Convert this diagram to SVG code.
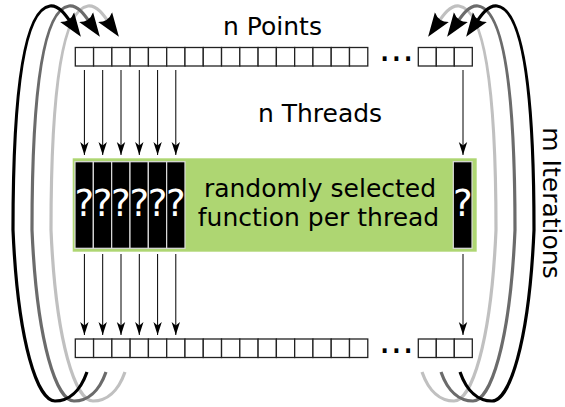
<svg xmlns="http://www.w3.org/2000/svg" width="565" height="407" viewBox="0 0 565 407">
<style>
.cell{fill:#fff;stroke:#222;stroke-width:1.3}
.fn{fill:#000;stroke:#ddd;stroke-width:1.2}
.q{fill:#fff;font-family:"DejaVu Sans",sans-serif;font-size:37px;text-anchor:middle}
.lbl{fill:#000;font-family:"DejaVu Sans",sans-serif;font-size:25px;text-anchor:middle}
.dots{fill:#000;font-family:"DejaVu Sans",sans-serif;font-size:37px}
.thr{stroke:#000;stroke-width:1;fill:none;marker-end:url(#ah)}
.loop{fill:none;stroke-width:3.2;marker-end:url(#big)}
</style>
<defs>
<marker id="ah" markerUnits="userSpaceOnUse" markerWidth="14" markerHeight="10" refX="13" refY="5" orient="auto">
<path d="M13,5 L0,0.8 L3.5,5 L0,9.2 Z" fill="#000"/>
</marker>
<marker id="big" markerUnits="userSpaceOnUse" markerWidth="25" markerHeight="20" refX="12" refY="10" orient="auto">
<path d="M24,10 L0,1.5 Q6,10 0,18.5 Z" fill="#000"/>
</marker>
<path id="loopPath" d="M87,372 C80,392 68,401 55,401 C38,401 18,345 13,230 C13,120 20,10 50,6 C60,5 67,17 74,27"/>
</defs>

<g id="connectors">
<g id="loop-left">
<use href="#loopPath" class="loop" stroke="#c0c0c0" transform="translate(38,0)"/>
<use href="#loopPath" class="loop" stroke="#6b6b6b" transform="translate(19,0)"/>
<use href="#loopPath" class="loop" stroke="#000"/>
</g>
<g id="loop-right" transform="translate(547,0) scale(-1,1)">
<use href="#loopPath" class="loop" stroke="#c0c0c0" transform="translate(38,0)"/>
<use href="#loopPath" class="loop" stroke="#6b6b6b" transform="translate(19,0)"/>
<use href="#loopPath" class="loop" stroke="#000"/>
</g>
<g id="thread-arrows">
<path class="thr" d="M84.4,70 V155"/>
<path class="thr" d="M102.7,70 V155"/>
<path class="thr" d="M121,70 V155"/>
<path class="thr" d="M139.3,70 V155"/>
<path class="thr" d="M157.6,70 V155"/>
<path class="thr" d="M175.8,70 V155"/>
<path class="thr" d="M463,70 V155"/>
<path class="thr" d="M84.4,254 V335"/>
<path class="thr" d="M102.7,254 V335"/>
<path class="thr" d="M121,254 V335"/>
<path class="thr" d="M139.3,254 V335"/>
<path class="thr" d="M157.6,254 V335"/>
<path class="thr" d="M175.8,254 V335"/>
<path class="thr" d="M463,254 V335"/>
</g>
</g>

<g id="points-top">
<rect class="cell" x="75.3" y="47.5" width="18.28" height="18.5"/>
<rect class="cell" x="93.58" y="47.5" width="18.28" height="18.5"/>
<rect class="cell" x="111.86" y="47.5" width="18.28" height="18.5"/>
<rect class="cell" x="130.14" y="47.5" width="18.28" height="18.5"/>
<rect class="cell" x="148.42" y="47.5" width="18.28" height="18.5"/>
<rect class="cell" x="166.7" y="47.5" width="18.28" height="18.5"/>
<rect class="cell" x="184.98" y="47.5" width="18.28" height="18.5"/>
<rect class="cell" x="203.26" y="47.5" width="18.28" height="18.5"/>
<rect class="cell" x="221.54" y="47.5" width="18.28" height="18.5"/>
<rect class="cell" x="239.82" y="47.5" width="18.28" height="18.5"/>
<rect class="cell" x="258.1" y="47.5" width="18.28" height="18.5"/>
<rect class="cell" x="276.38" y="47.5" width="18.28" height="18.5"/>
<rect class="cell" x="294.66" y="47.5" width="18.28" height="18.5"/>
<rect class="cell" x="312.94" y="47.5" width="18.28" height="18.5"/>
<rect class="cell" x="331.22" y="47.5" width="18.28" height="18.5"/>
<rect class="cell" x="349.5" y="47.5" width="18.28" height="18.5"/>
<text class="dots" x="378.7" y="61.3">...</text>
<rect class="cell" x="418.3" y="47.5" width="18" height="18.5"/>
<rect class="cell" x="436.3" y="47.5" width="18" height="18.5"/>
<rect class="cell" x="454.3" y="47.5" width="18" height="18.5"/>
</g>

<g id="points-bottom">
<rect class="cell" x="75.3" y="339" width="18.28" height="18.5"/>
<rect class="cell" x="93.58" y="339" width="18.28" height="18.5"/>
<rect class="cell" x="111.86" y="339" width="18.28" height="18.5"/>
<rect class="cell" x="130.14" y="339" width="18.28" height="18.5"/>
<rect class="cell" x="148.42" y="339" width="18.28" height="18.5"/>
<rect class="cell" x="166.7" y="339" width="18.28" height="18.5"/>
<rect class="cell" x="184.98" y="339" width="18.28" height="18.5"/>
<rect class="cell" x="203.26" y="339" width="18.28" height="18.5"/>
<rect class="cell" x="221.54" y="339" width="18.28" height="18.5"/>
<rect class="cell" x="239.82" y="339" width="18.28" height="18.5"/>
<rect class="cell" x="258.1" y="339" width="18.28" height="18.5"/>
<rect class="cell" x="276.38" y="339" width="18.28" height="18.5"/>
<rect class="cell" x="294.66" y="339" width="18.28" height="18.5"/>
<rect class="cell" x="312.94" y="339" width="18.28" height="18.5"/>
<rect class="cell" x="331.22" y="339" width="18.28" height="18.5"/>
<rect class="cell" x="349.5" y="339" width="18.28" height="18.5"/>
<text class="dots" x="378.7" y="353.3">...</text>
<rect class="cell" x="418.3" y="339" width="18" height="18.5"/>
<rect class="cell" x="436.3" y="339" width="18" height="18.5"/>
<rect class="cell" x="454.3" y="339" width="18" height="18.5"/>
</g>

<g id="function-box">
<rect x="72.7" y="158.3" width="404" height="93.4" fill="#aed672"/>
<rect class="fn" x="75" y="161.7" width="18.33" height="86.6"/>
<rect class="fn" x="93.33" y="161.7" width="18.33" height="86.6"/>
<rect class="fn" x="111.66" y="161.7" width="18.33" height="86.6"/>
<rect class="fn" x="129.99" y="161.7" width="18.33" height="86.6"/>
<rect class="fn" x="148.32" y="161.7" width="18.33" height="86.6"/>
<rect class="fn" x="166.65" y="161.7" width="18.33" height="86.6"/>
<rect class="fn" x="453.3" y="161.7" width="18.7" height="86.6"/>
<text class="q" x="84.2" y="216">?</text>
<text class="q" x="102.5" y="216">?</text>
<text class="q" x="120.8" y="216">?</text>
<text class="q" x="139.2" y="216">?</text>
<text class="q" x="157.5" y="216">?</text>
<text class="q" x="175.8" y="216">?</text>
<text class="q" x="462.7" y="216">?</text>
<text class="lbl" x="320" y="197">randomly selected</text>
<text class="lbl" x="318.5" y="226">function per thread</text>
</g>

<g id="labels">
<text class="lbl" x="272.5" y="35">n Points</text>
<text class="lbl" x="320" y="122">n Threads</text>
<text class="lbl" transform="translate(543,203) rotate(90)">m Iterations</text>
</g>
</svg>
